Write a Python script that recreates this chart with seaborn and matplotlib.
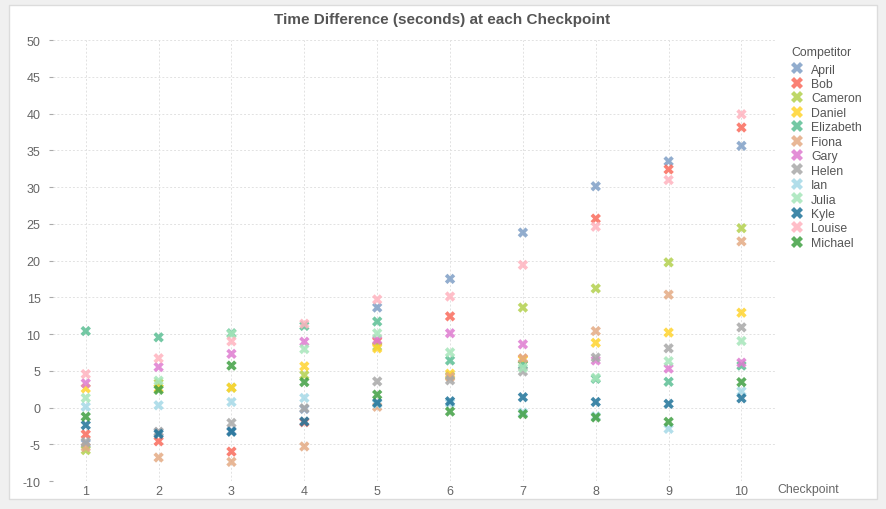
import pandas as pd
import matplotlib
matplotlib.use("Agg")
import matplotlib.pyplot as plt
from matplotlib.patches import Rectangle
import seaborn as sns

checkpoints = [1, 2, 3, 4, 5, 6, 7, 8, 9, 10]
competitors = ["April", "Bob", "Cameron", "Daniel", "Elizabeth", "Fiona", "Gary",
               "Helen", "Ian", "Julia", "Kyle", "Louise", "Michael"]

april = [-4.9, -3.4, -3.2, -0.2, 13.6, 17.5, 23.8, 30.1, 33.5, 35.6]
bob = [-3.65, -4.6, -6.0, -2.0, 9.0, 12.4, 6.6, 25.7, 32.4, 38.1]
cameron = [-5.8, 3.3, 2.7, 4.4, 8.3, 4.3, 13.6, 16.2, 19.75, 24.4]
daniel = [2.6, 2.6, 2.7, 5.6, 8.05, 4.6, 6.5, 8.8, 10.2, 12.9]
elizabeth = [10.4, 9.55, 10.1, 11.1, 11.7, 6.4, 5.8, 3.9, 3.5, 5.7]
fiona = [-5.4, -6.8, -7.4, -5.3, 0.1, 4.15, 6.7, 10.4, 15.35, 22.6]
gary = [3.3, 5.5, 7.3, 8.95, 9.2, 10.1, 8.6, 6.4, 5.3, 6.1]
helen = [-4.7, -3.3, -2.1, -0.1, 3.55, 3.7, 4.9, 6.8, 8.05, 10.9]
ian = [0.1, 0.3, 0.75, 1.3, 0.5, 0.6, -0.7, -1.2, -2.9, 2.2]
julia = [1.3, 3.65, 10.0, 7.95, 10.1, 7.5, 5.4, 4.05, 6.3, 9.05]
kyle = [-2.4, -3.6, -3.3, -1.9, 0.65, 0.85, 1.4, 0.75, 0.5, 1.25]
louise = [4.55, 6.7, 9.0, 11.4, 14.7, 15.1, 19.4, 24.6, 30.95, 39.9]
michael = [-1.25, 2.4, 5.7, 3.45, 1.75, -0.55, -0.9, -1.35, -1.95, 3.45]

colors = ["#7f9fc6", "#fa6b5c", "#b3d14e", "#ffd42e", "#5cbf94", "#e4ab84", "#df7bd0",
          "#a8a8a8", "#a5d9e7", "#a6e6ba", "#1f7399", "#ffb3bf", "#40a043"]

series = [april, bob, cameron, daniel, elizabeth, fiona, gary,
          helen, ian, julia, kyle, louise, michael]
rows = []
for name, vals in zip(competitors, series):
    for cp, v in zip(checkpoints, vals):
        rows.append({"Checkpoint": cp, "Competitor": name, "Diff": v})
df = pd.DataFrame(rows)
palette = dict(zip(competitors, colors))

sns.set_theme(style="white")
plt.rcParams["font.family"] = ["Liberation Sans", "DejaVu Sans"]
plt.rcParams["axes.unicode_minus"] = False

fig = plt.figure(figsize=(8.86, 5.1), dpi=100)
fig.patch.set_facecolor("#f0f0f0")
# white card behind the chart
fig.patches.append(Rectangle((0.0102, 0.0196), 0.9798, 0.9684, transform=fig.transFigure,
                             facecolor="white", edgecolor="#dcdcdc", linewidth=1, zorder=-5))
ax = fig.add_axes([0.0598, 0.0549, 0.8149, 0.8647])
ax.set_facecolor("none")

sns.scatterplot(data=df, x="Checkpoint", y="Diff", hue="Competitor", palette=palette,
                marker="X", s=56, linewidth=0, alpha=0.85, ax=ax, zorder=3)

ax.set_xlim(0.55, 10.46)
ax.set_ylim(-10, 50)
ax.set_xticks(checkpoints)
ax.set_yticks(range(-10, 51, 5))
ax.grid(True, color="#e2e2e2", linestyle=(0, (2, 2)), linewidth=0.7)
for s in ax.spines.values():
    s.set_visible(False)
ax.tick_params(axis="y", left=True, length=3, width=0.8, color="#aaaaaa", labelsize=9,
               labelcolor="#666666", pad=6)
ax.tick_params(axis="x", length=0, labelsize=9, labelcolor="#666666", pad=3)
ax.set_xlabel("")
ax.set_ylabel("")
fig.text(0.877, 0.039, "Checkpoint", fontsize=8.8, color="#666666", va="center", ha="left")

fig.text(0.499, 0.960, "Time Difference (seconds) at each Checkpoint", ha="center", va="center",
         fontsize=11, fontweight="bold", color="#555555")

# legend title placed separately to get the larger gap above the entries
fig.text(0.893, 0.897, "Competitor", fontsize=8.8, color="#555555", va="center", ha="left")
leg = ax.legend(loc="upper left", bbox_to_anchor=(0.887, 0.883),
                bbox_transform=fig.transFigure, frameon=False, fontsize=8.8,
                handletextpad=0.55, labelspacing=0.2,
                borderaxespad=0, handlelength=1.1, markerscale=1.15)
for t in leg.get_texts():
    t.set_color("#555555")

plt.savefig("out.png", dpi=100, facecolor=fig.get_facecolor())
